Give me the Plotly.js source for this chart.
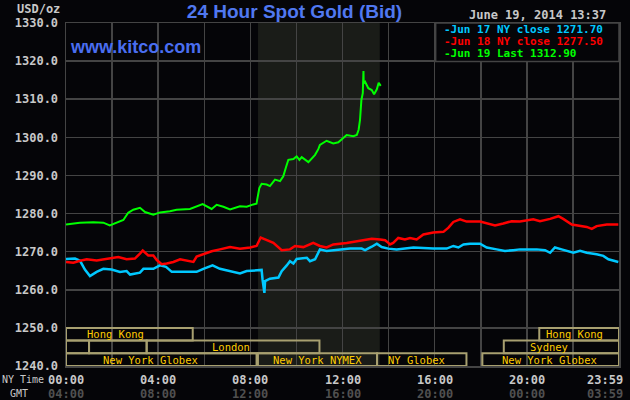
<!DOCTYPE html>
<html><head><meta charset="utf-8">
<script src="https://cdn.plot.ly/plotly-3.0.1.min.js"></script>
<style>html,body{margin:0;padding:0;background:#050508;}</style>
</head><body><div id="chart" style="width:630px;height:400px;"></div>
<script>
// ---- data (hours in NY time, price USD/oz) ----
const jun17Hours = [0,0.39,0.61,0.82,1.04,1.33,1.62,1.98,2.34,2.63,2.78,3.21,3.36,3.79,4.08,4.34,4.59,5.09,5.67,5.96,6.36,6.68,7.12,7.55,7.84,8.27,8.49,8.53,8.61,8.64,8.85,9.22,9.36,9.58,9.72,9.87,10.01,10.45,10.59,10.81,11.02,11.31,11.75,12.33,12.83,12.98,13.27,13.49,13.7,13.99,14.35,15.08,15.94,16.52,16.81,17.03,17.25,17.53,17.97,18.26,18.69,19.05,19.41,19.7,20.43,20.79,21.01,21.22,21.51,21.8,22.02,22.31,22.6,23.03,23.32,23.54,23.76,23.97];
const jun17Values = [1268.1,1268.2,1267.6,1265.3,1263.6,1264.7,1265.5,1265.3,1264.7,1264.9,1264.0,1264.5,1265.5,1265.5,1266.4,1266.0,1264.7,1264.7,1264.7,1265.5,1266.4,1265.5,1264.9,1264.3,1264.9,1265.2,1265.2,1262.7,1259.2,1262.3,1262.9,1263.2,1264.9,1266.4,1267.5,1266.9,1268.1,1268.4,1267.5,1268.0,1270.6,1270.2,1270.4,1270.8,1270.8,1270.4,1271.3,1272.1,1271.2,1270.8,1270.6,1271.1,1270.8,1270.8,1271.5,1271.1,1271.9,1272.1,1272.1,1271.1,1270.6,1270.2,1270.4,1270.6,1270.6,1270.4,1269.7,1271.1,1270.6,1270.2,1269.7,1270.2,1269.7,1269.3,1268.9,1268.0,1267.7,1267.3];

const jun18Hours = [0,0.32,0.61,0.9,1.33,1.77,2.27,2.63,2.99,3.21,3.33,3.57,3.79,3.94,4.15,4.37,4.66,4.95,5.24,5.53,5.67,5.96,6.32,6.68,7.12,7.55,7.99,8.27,8.39,8.45,8.64,9.0,9.36,9.72,9.94,10.3,10.73,11.02,11.31,11.6,12.18,12.76,13.27,13.63,13.85,13.99,14.06,14.2,14.42,14.71,14.93,15.22,15.51,15.94,16.38,16.6,16.81,17.1,17.39,17.97,18.26,18.62,18.98,19.34,19.7,20.28,20.57,21.01,21.37,21.58,21.95,22.31,22.6,22.82,23.03,23.47,23.97];
const jun18Values = [1267.3,1267.1,1267.6,1268.0,1267.7,1268.1,1268.6,1268.0,1268.2,1269.5,1270.3,1269.0,1269.0,1267.8,1266.7,1266.9,1267.3,1268.0,1267.6,1267.3,1268.7,1269.3,1270.1,1270.6,1271.2,1270.8,1271.1,1271.5,1272.9,1273.7,1273.2,1272.3,1270.4,1270.6,1271.5,1271.2,1272.3,1271.5,1271.1,1271.9,1272.3,1272.8,1273.4,1273.2,1273.0,1272.3,1271.9,1272.3,1273.6,1273.2,1273.6,1273.2,1274.5,1275.0,1275.2,1276.3,1277.8,1278.5,1277.9,1277.9,1277.4,1276.9,1277.4,1278.0,1277.9,1278.5,1278.0,1278.6,1279.3,1278.6,1277.1,1276.7,1276.5,1276.0,1276.7,1277.1,1277.1];

const jun19Hours = [0,0.6,1.19,1.62,1.9,2.2,2.49,2.7,2.92,3.21,3.43,3.79,4.08,4.51,4.8,5.38,5.67,5.93,6.32,6.54,6.83,7.12,7.55,7.84,8.13,8.27,8.3,8.39,8.49,8.71,8.85,9.07,9.29,9.43,9.55,9.65,9.87,10.01,10.13,10.23,10.52,10.81,10.95,11.02,11.31,11.6,11.82,12.04,12.18,12.47,12.62,12.7,12.76,12.82,12.88,12.91,12.92,12.98,13.12,13.27,13.37,13.49,13.57,13.66];
const jun19Values = [1277.1,1277.6,1277.7,1277.6,1276.9,1277.6,1278.3,1280.2,1281.0,1281.5,1280.4,1279.7,1280.3,1280.6,1281.0,1281.2,1281.9,1282.5,1281.2,1282.3,1281.8,1281.1,1281.9,1281.8,1282.4,1282.6,1283.7,1286.7,1287.8,1287.6,1287.2,1288.9,1288.5,1289.8,1292.2,1294.1,1294.3,1295.0,1294.1,1294.8,1293.5,1295.4,1296.9,1298.0,1299.1,1298.4,1298.7,1300.0,1300.6,1300.3,1300.6,1302.0,1304.6,1309.8,1311.6,1317.4,1314.2,1314.6,1312.9,1312.4,1311.3,1312.6,1314.3,1313.5];

const legendLabels = ['-Jun 17 NY close 1271.70', '-Jun 18 NY close 1277.50', '-Jun 19 Last 1312.90'];
const tickHours = [0, 4, 8, 12, 16, 20, 23.983];
const nyTickText = ['00:00','04:00','08:00','12:00','16:00','20:00','23:59'];
const gmtTickText = ['04:00','08:00','12:00','16:00','20:00','00:00','03:59'];

const sessionNames = ['Hong Kong','','','London','New York Globex','New York NYMEX','NY Globex','New York Globex','Sydney','Hong Kong'];
const sessionRows  = [1,2,2,2,3,3,3,3,2,1];
const sessionStart = [0,0,1.0,3.5,0,8.33,13.5,18.07,19.0,20.54];
const sessionEnd   = [5.5,1.0,3.5,11.0,8.27,13.5,17.38,24,24,24];
const sessionLabelAt = [2.13,null,null,7.15,3.65,10.9,15.2,21.0,20.96,22.05];

const nymexOpen = 8.333, nowHour = 13.617;

// ---- styles ----
const mono = 'DejaVu Sans Mono, monospace';
const colors = ['#00c8ff', '#ff0000', '#00ff00'];

const traces = [
  {x: jun17Hours, y: jun17Values, mode: 'lines', line: {color: colors[0], width: 2.5}, showlegend: false, hoverinfo: 'skip'},
  {x: jun18Hours, y: jun18Values, mode: 'lines', line: {color: colors[1], width: 2.5}, showlegend: false, hoverinfo: 'skip'},
  {x: jun19Hours, y: jun19Values, mode: 'lines', line: {color: colors[2], width: 2}, showlegend: false, hoverinfo: 'skip'}
];

const shapes = [
  {type: 'rect', xref: 'x', yref: 'paper', x0: nymexOpen, x1: nowHour, y0: 0, y1: 1, fillcolor: '#1a1c18', line: {width: 0}, layer: 'below'}
];
const annotations = [];
const rowH = 10 / 3;
sessionNames.forEach((name, i) => {
  const top = 1250 - (sessionRows[i] - 1) * rowH;
  shapes.push({type: 'rect', xref: 'x', yref: 'y', x0: sessionStart[i], x1: sessionEnd[i], y0: top - rowH, y1: top,
    line: {color: '#a8a070', width: 2}, fillcolor: 'rgba(0,0,0,0)', layer: 'above'});
  if (name) annotations.push({xref: 'x', yref: 'y', x: sessionLabelAt[i], y: top - rowH / 2, text: name, showarrow: false,
    font: {family: mono, size: 10.5, color: '#ffcc00'}, xanchor: 'center', yanchor: 'middle'});
});
// legend box
shapes.push({type: 'rect', xref: 'paper', yref: 'paper', x0: 0.6685, x1: 1, y0: 0.888, y1: 1,
  fillcolor: '#050508', line: {color: '#444', width: 1.5}, layer: 'above'});
const legendY = [0.982, 0.946, 0.910];
legendLabels.forEach((t, i) => annotations.push({xref: 'paper', yref: 'paper', x: 0.680, y: legendY[i], text: t,
  showarrow: false, xanchor: 'left', yanchor: 'middle', font: {family: mono, size: 11, color: colors[i], weight: 'bold'}}));
// x tick labels (NY time and GMT)
tickHours.forEach((h, i) => {
  const last = i === tickHours.length - 1;
  annotations.push({xref: 'x', yref: 'paper', x: h, y: 0, yshift: -13.5, text: nyTickText[i], showarrow: false,
    xanchor: last ? 'right' : 'center', xshift: last ? 6 : 0, yanchor: 'middle', font: {family: mono, size: 12, color: '#c8c8c8', weight: 'bold'}});
  annotations.push({xref: 'x', yref: 'paper', x: h, y: 0, yshift: -27.5, text: gmtTickText[i], showarrow: false,
    xanchor: last ? 'right' : 'center', xshift: last ? 6 : 0, yanchor: 'middle', font: {family: mono, size: 12, color: '#505050', weight: 'bold'}});
});
annotations.push({xref: 'paper', yref: 'paper', x: -0.036, y: 0, yshift: -13.5, text: 'NY Time', showarrow: false,
  xanchor: 'right', yanchor: 'middle', font: {family: mono, size: 10, color: '#c8c8c8'}});
annotations.push({xref: 'paper', yref: 'paper', x: -0.066, y: 0, yshift: -27, text: 'GMT', showarrow: false,
  xanchor: 'right', yanchor: 'middle', font: {family: mono, size: 10, color: '#c8c8c8'}});
annotations.push({xref: 'paper', yref: 'paper', x: -0.007, y: 1, yshift: 14.5, text: 'USD/oz', showarrow: false,
  xanchor: 'right', yanchor: 'middle', font: {family: mono, size: 12, color: '#c8c8c8', weight: 'bold'}});
annotations.push({xref: 'paper', yref: 'paper', x: 0.980, y: 1, yshift: 8, text: 'June 19, 2014 13:37', showarrow: false,
  xanchor: 'right', yanchor: 'middle', font: {family: mono, size: 12, color: '#c8c8c8', weight: 'bold'}});
annotations.push({xref: 'paper', yref: 'paper', x: 0.003, y: 0.929, text: 'www.kitco.com', showarrow: false,
  xanchor: 'left', yanchor: 'middle', font: {family: 'Liberation Sans, Arial, sans-serif', size: 18, color: '#4a6ef0', weight: 'bold'}});

const layout = {
  width: 630, height: 400,
  margin: {l: 66, r: 11, t: 22.5, b: 33.5},
  paper_bgcolor: '#050508', plot_bgcolor: '#050508',
  title: {text: '24 Hour Spot Gold (Bid)', x: 0.4675, xanchor: 'center', y: 0.972, yanchor: 'middle',
    font: {family: 'Liberation Sans, Arial, sans-serif', size: 19, color: '#5078f0', weight: 'bold'}},
  xaxis: {range: [0, 24], dtick: 2, tick0: 0, showticklabels: false, showgrid: true, gridcolor: '#444', gridwidth: 1.5,
    zeroline: false, showline: true, mirror: true, linecolor: '#444', linewidth: 1.5, fixedrange: true},
  yaxis: {range: [1240, 1330], dtick: 10, tick0: 1240, tickformat: '.1f', showgrid: true, gridcolor: '#444', gridwidth: 1.5,
    zeroline: false, showline: true, mirror: true, linecolor: '#444', linewidth: 1.5, ticks: '', ticklabelstandoff: 4,
    tickfont: {family: mono, size: 12, color: '#c8c8c8', weight: 'bold'}, fixedrange: true},
  shapes: shapes,
  annotations: annotations,
  showlegend: false
};
Plotly.newPlot('chart', traces, layout, {displayModeBar: false, staticPlot: true});
</script></body></html>
